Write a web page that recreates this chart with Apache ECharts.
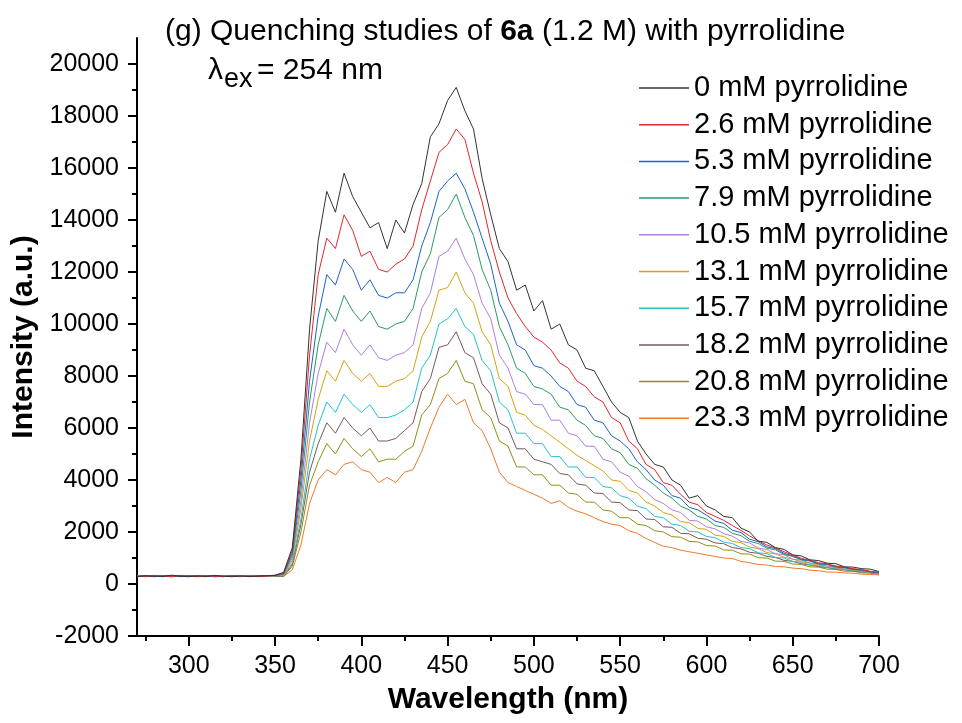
<!DOCTYPE html>
<html>
<head>
<meta charset="utf-8">
<script src="https://cdn.jsdelivr.net/npm/echarts@6/dist/echarts.min.js"></script>
<style>
  html, body { margin: 0; padding: 0; background: #fff; }
  #chart { width: 962px; height: 723px; }
</style>
</head>
<body>
<div id="chart"></div>
<script>
// wavelength grid (nm)
const wavelength = [270,275,280,285,290,295,300,305,310,315,320,325,330,335,340,345,350,
  355,360,365,370,375,380,385,390,395,400,405,410,415,420,425,430,435,440,445,450,
  455,460,465,470,475,480,485,490,495,500,505,510,515,520,525,530,535,540,545,550,
  555,560,565,570,575,580,585,590,595,600,605,610,615,620,625,630,635,640,645,650,
  655,660,665,670,675,680,685,690,695,700];

const seriesNames = ['0 mM pyrrolidine','2.6 mM pyrrolidine','5.3 mM pyrrolidine','7.9 mM pyrrolidine',
  '10.5 mM pyrrolidine','13.1 mM pyrrolidine','15.7 mM pyrrolidine','18.2 mM pyrrolidine',
  '20.8 mM pyrrolidine','23.3 mM pyrrolidine'];

const lineColors = ['#333333','#e3262b','#1a64c8','#2a9a63','#b07ee0','#d2a412','#22c3d0','#7a5858','#8f9014','#ee7a2c'];

// intensities (a.u.)
const i0 = [280,320,300,290,340,300,280,310,290,330,300,280,310,290,300,320,330,
  450,1400,4800,9800,13200,15100,14300,15800,14900,14300,
  13700,13900,12900,14000,13500,14600,15400,17200,17700,18600,
  19100,18200,17500,15600,14200,12900,12400,11300,11500,10500,
  10900,9800,10000,9200,9000,8300,8200,7600,7000,6600,
  6400,5500,5000,4600,4500,4000,3800,3300,3400,3000,
  2850,2600,2550,2150,2000,1650,1600,1400,1330,1120,
  1080,930,900,800,780,660,650,590,570,480];
const i26 = [300,290,320,310,280,330,300,290,310,300,280,320,300,310,290,300,340,
  420,1300,4400,8800,11900,13300,12900,14200,13600,12600,
  12800,12100,12000,12300,12500,13000,14400,15500,16600,16900,
  17500,17100,15800,14700,13200,12000,11000,10400,9900,9500,
  9300,9000,8500,8300,7800,7600,7200,7000,6400,6200,
  5500,5200,4600,4400,3900,3800,3450,3150,3050,2750,
  2600,2450,2250,2060,1850,1660,1500,1390,1240,1110,
  990,910,820,770,690,650,590,550,490,450];
const i53 = [310,300,280,320,300,290,330,300,310,280,300,320,290,300,310,320,330,
  400,1200,4000,7800,10300,11900,11500,12500,12100,11300,
  11700,11100,11000,11200,11200,11700,13000,13900,15100,15500,
  15800,15200,14300,13300,12300,10800,10100,9200,9000,8400,
  8300,8000,7600,7400,6900,6800,6300,6200,5700,5500,
  5200,4700,4400,4000,3800,3400,3300,2950,2850,2650,
  2420,2330,2070,1980,1720,1630,1430,1360,1180,1080,
  950,900,780,760,670,630,570,540,470,440];
const i79 = [290,310,300,280,320,300,290,310,300,330,290,300,310,280,300,310,320,
  380,1100,3600,7000,9200,10600,10100,11100,10500,10100,
  10500,9900,9800,10000,10100,10600,12000,12700,14100,14400,
  15000,14100,13400,12100,11300,9900,9200,8300,8100,7600,
  7500,7300,6800,6700,6300,6100,5700,5600,5200,5050,
  4600,4450,4050,3800,3500,3300,3000,2850,2600,2500,
  2250,2180,1950,1860,1640,1560,1380,1310,1140,1060,
  930,880,770,750,650,630,550,530,460,420];
const i105 = [300,280,310,300,320,290,300,280,310,300,290,330,300,290,310,300,320,
  360,1000,3200,6200,8100,9300,8900,9800,9200,8800,
  9200,8700,8600,8800,8900,9200,10600,11200,12600,12800,
  13300,12500,11900,10800,10200,8800,8300,7400,7300,6900,
  6900,6300,6300,5800,5700,5300,5300,4800,4700,4300,
  4150,3750,3550,3250,3100,2850,2750,2450,2420,2200,
  2120,1940,1840,1640,1580,1380,1330,1160,1130,950,
  920,800,780,680,660,570,560,490,470,410];
const i131 = [310,290,300,320,290,310,300,280,300,310,320,290,300,310,280,300,310,
  340,900,2900,5500,7100,8200,7800,8600,8100,7800,
  8100,7600,7600,7800,7900,8200,9500,10100,11300,11400,
  12000,11200,10800,9700,9200,7900,7600,6600,6500,6100,
  5950,5700,5450,5200,4950,4750,4550,4350,4000,3950,
  3600,3500,3150,3000,2750,2650,2400,2360,2140,2100,
  1880,1830,1640,1590,1420,1360,1210,1160,1030,960,
  860,800,730,690,620,580,530,500,440,400];
const i157 = [300,320,290,300,310,280,300,330,290,300,310,300,280,310,300,290,310,
  320,800,2500,4800,6100,7000,6600,7300,6900,6600,
  6900,6400,6400,6500,6700,7000,8300,8800,10000,10200,
  10600,9900,9600,8600,8200,7000,6700,5800,5800,5400,
  5400,4900,4900,4500,4500,4100,4100,3750,3700,3400,
  3300,3000,2900,2600,2550,2300,2250,2030,2000,1830,
  1780,1610,1560,1400,1360,1200,1170,1020,1000,870,
  840,730,720,630,610,540,530,470,450,400];
const i182 = [290,300,310,290,300,320,290,300,310,280,300,310,290,300,320,300,300,
  310,750,2300,4300,5400,6200,5800,6400,6000,5700,
  6000,5500,5500,5600,5900,6200,7400,7900,9100,9200,
  9700,8900,8700,7700,7300,6200,6000,5200,5200,4800,
  4700,4600,4250,4200,3850,3800,3500,3480,3150,3130,
  2850,2820,2500,2480,2200,2180,1950,1930,1760,1720,
  1580,1550,1400,1350,1220,1180,1060,1020,910,870,
  780,730,670,630,580,550,500,470,430,390];
const i208 = [300,310,290,300,280,310,300,320,290,300,310,290,300,310,290,300,310,
  300,680,2000,3800,4700,5400,5000,5600,5200,4900,
  5200,4700,4800,4800,5100,5300,6500,6900,7900,8100,
  8600,7800,7700,6700,6400,5500,5300,4500,4500,4200,
  4200,3800,3800,3500,3450,3150,3150,2850,2800,2550,
  2550,2300,2250,2050,2000,1820,1800,1640,1620,1480,
  1460,1310,1300,1160,1150,1010,1000,880,870,770,
  750,660,650,570,560,490,490,430,420,380];
const i233 = [280,300,290,310,300,290,320,300,280,300,290,310,300,290,300,310,290,
  290,550,1500,3100,4000,4400,4200,4600,4700,4400,
  4300,3900,4100,3900,4300,4400,5100,6000,6800,7300,
  6900,7100,6200,5900,5200,4300,3900,3750,3600,3450,
  3300,3100,3200,2950,2800,2700,2550,2400,2300,2250,
  2050,1950,1750,1600,1450,1400,1300,1240,1180,1120,
  1060,1000,980,870,820,750,730,670,660,610,
  590,530,510,460,455,425,415,380,365,350];

const intensities = [i0, i26, i53, i79, i105, i131, i157, i182, i208, i233];

// axis ticks
const xMajorTicks = [300,350,400,450,500,550,600,650,700];
const xMinorTicks = [275,325,375,425,475,525,575,625,675];
const yMajorTicks = [-2000,0,2000,4000,6000,8000,10000,12000,14000,16000,18000,20000];
const yMinorTicks = [-1000,1000,3000,5000,7000,9000,11000,13000,15000,17000,19000];

const FONT = 'Liberation Sans, Arial, sans-serif';

const chart = echarts.init(document.getElementById('chart'));

const series = intensities.map((vals, k) => ({
  name: seriesNames[k],
  type: 'line',
  data: wavelength.map((w, j) => [w, vals[j]]),
  symbol: 'none',
  showSymbol: false,
  lineStyle: { width: 1, color: lineColors[k] },
  itemStyle: { color: lineColors[k] },
  z: 20 - k,
  animation: false
}));

const baseX = { type: 'value', min: 270, max: 700, gridIndex: 0, position: 'bottom', splitLine: { show: false } };
const baseY = { type: 'value', min: -2000, max: 21000, gridIndex: 0, position: 'left', splitLine: { show: false } };

const option = {
  backgroundColor: '#fff',
  animation: false,
  title: [
    {
      text: '(g) Quenching studies of {b|6a} (1.2 M) with pyrrolidine',
      left: 160, top: 12,
      textStyle: {
        fontFamily: FONT, fontSize: 30, fontWeight: 'normal', color: '#000',
        rich: { b: { fontFamily: FONT, fontSize: 30, fontWeight: 'bold', color: '#000' } }
      }
    }
  ],
  graphic: [
    { type: 'text', left: 208, top: 56, style: { text: 'λ', font: '30px ' + FONT, fill: '#000' } },
    { type: 'text', left: 224, top: 66, style: { text: 'ex', font: '27px ' + FONT, fill: '#000' } },
    { type: 'text', left: 257, top: 56, style: { text: '= 254 nm', font: '30px ' + FONT, fill: '#000' } }
  ],
  legend: {
    orient: 'vertical',
    left: 634, top: 68,
    icon: 'rect',
    itemWidth: 50, itemHeight: 1.5, itemGap: 6.7,
    textStyle: { fontFamily: FONT, fontSize: 29, lineHeight: 30, color: '#000' },
    data: seriesNames
  },
  grid: { left: 137, right: 83, top: 38, bottom: 87, containLabel: false, outerBoundsMode: 'none' },
  xAxis: [
    Object.assign({}, baseX, {
      name: 'Wavelength (nm)', nameLocation: 'middle', nameGap: 49,
      nameTextStyle: { fontFamily: FONT, fontSize: 30, fontWeight: 'bold', color: '#000' },
      axisLine: { show: true, onZero: false, lineStyle: { color: '#000', width: 2 } },
      axisTick: { show: true, inside: false, length: 10, customValues: xMajorTicks, lineStyle: { color: '#000', width: 2 } },
      axisLabel: { show: true, customValues: xMajorTicks, margin: 18, fontFamily: FONT, fontSize: 25, color: '#000', formatter: v => String(v) }
    }),
    Object.assign({}, baseX, {
      axisLine: { show: false, onZero: false },
      axisTick: { show: true, inside: false, length: 5, customValues: xMinorTicks, lineStyle: { color: '#000', width: 2 } },
      axisLabel: { show: false }
    })
  ],
  yAxis: [
    Object.assign({}, baseY, {
      name: 'Intensity (a.u.)', nameLocation: 'middle', nameGap: 96,
      nameTextStyle: { fontFamily: FONT, fontSize: 30, fontWeight: 'bold', color: '#000' },
      axisLine: { show: true, onZero: false, lineStyle: { color: '#000', width: 2 } },
      axisTick: { show: true, inside: false, length: 9, customValues: yMajorTicks, lineStyle: { color: '#000', width: 2 } },
      axisLabel: { show: true, customValues: yMajorTicks, margin: 18, fontFamily: FONT, fontSize: 25, color: '#000', formatter: v => String(v) }
    }),
    Object.assign({}, baseY, {
      axisLine: { show: false, onZero: false },
      axisTick: { show: true, inside: false, length: 5, customValues: yMinorTicks, lineStyle: { color: '#000', width: 2 } },
      axisLabel: { show: false }
    })
  ],
  series: series
};

chart.setOption(option);
</script>
</body>
</html>
